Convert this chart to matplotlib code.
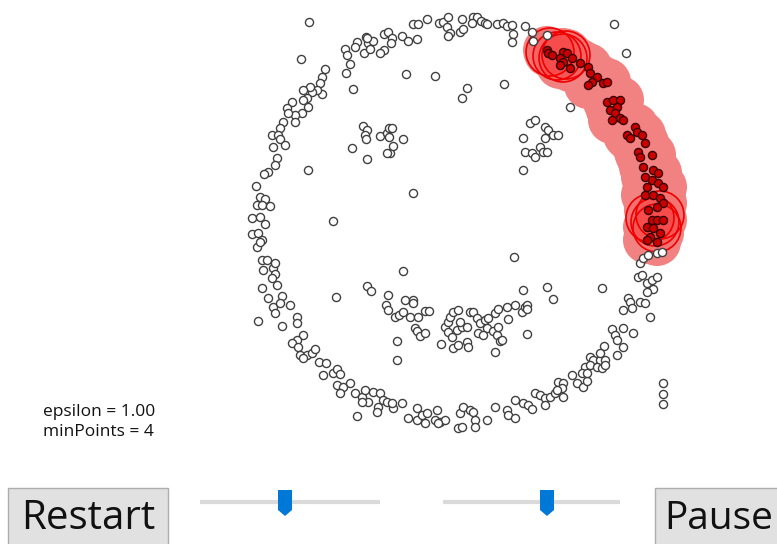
import numpy as np
import matplotlib.pyplot as plt
from matplotlib.patches import Circle, Rectangle, Polygon

# point positions (pixel coords, y down)
ring_pts = [
    (345, 49), (347, 55), (350, 64), (346, 73), (357, 42), (355, 47), (366, 37), (368, 43), (373, 41),
    (364, 53), (370, 49), (367, 38), (384, 34), (388, 32), (392, 38), (391, 43), (384, 50), (380, 53),
    (402, 36), (408, 41), (417, 39), (413, 24), (418, 24), (427, 19), (439, 23), (443, 22), (448, 17),
    (447, 27), (450, 33), (448, 36), (460, 32), (463, 29), (462, 19), (473, 17), (477, 17), (481, 21),
    (472, 23), (485, 23), (487, 24), (497, 24), (503, 23), (507, 26), (512, 25), (513, 34), (512, 42),
    (525, 26), (532, 32), (533, 41), (547, 35),
    (325, 69), (322, 77), (320, 83), (322, 94), (317, 90), (312, 92), (310, 87), (303, 90), (307, 98),
    (303, 100), (308, 107), (302, 113), (295, 115), (292, 102), (287, 108), (288, 113), (283, 122),
    (295, 122), (280, 128), (272, 135), (278, 135), (280, 139), (273, 147), (285, 145), (277, 158),
    (275, 165), (268, 172), (264, 174), (256, 186), (260, 197), (265, 199),
    (257, 205), (262, 205), (270, 206), (252, 218), (260, 217), (265, 224), (252, 234), (258, 233),
    (262, 240), (257, 247), (260, 242), (262, 260), (267, 260), (263, 270), (273, 268), (275, 263),
    (275, 274), (272, 278), (277, 285), (262, 288), (268, 298), (273, 307), (282, 296), (290, 305),
    (280, 303), (275, 313), (297, 317), (297, 323), (282, 326), (303, 335), (297, 340), (292, 343),
    (298, 347), (300, 355), (307, 355), (303, 358), (312, 353), (315, 349), (319, 362), (326, 363),
    (323, 375), (333, 373), (337, 369), (340, 374), (337, 385), (343, 387), (350, 383), (340, 393),
    (355, 393), (362, 397), (365, 390), (373, 392), (368, 402), (362, 402), (380, 393), (383, 400),
    (378, 407), (387, 402), (393, 408), (392, 403), (402, 403), (357, 416), (377, 412),
    (408, 418), (417, 408), (417, 420), (422, 415), (427, 413), (425, 423), (437, 410), (435, 420),
    (440, 422), (445, 420), (438, 423), (458, 428), (462, 427), (460, 413), (463, 407), (470, 410),
    (473, 412), (475, 420), (475, 427), (487, 420), (495, 407), (507, 410), (508, 415), (515, 400),
    (515, 418), (523, 403), (528, 405), (532, 409), (535, 393), (540, 395), (545, 398), (550, 397),
    (555, 393), (545, 405), (558, 382), (563, 383), (562, 388), (557, 390), (563, 397), (572, 375),
    (577, 383), (583, 387), (587, 381), (585, 367), (582, 373), (587, 373), (590, 357), (593, 360),
    (600, 360), (605, 360), (590, 365), (597, 367), (602, 368), (605, 365), (604, 346), (600, 353),
    (612, 329), (615, 335), (617, 340), (623, 328), (633, 333), (623, 347), (617, 355), (628, 298),
    (630, 302), (623, 310), (632, 308), (640, 302), (645, 303), (650, 317), (638, 277), (642, 275),
    (647, 283), (652, 280), (657, 277), (653, 289), (647, 292), (640, 263), (643, 258), (648, 255),
    (657, 253), (662, 252),
]

eye_pts = [
    (363, 126), (367, 130), (365, 135), (366, 139), (380, 136), (387, 133), (389, 128), (392, 128),
    (389, 137), (390, 153), (387, 153), (393, 146), (403, 139), (352, 148), (367, 159),
    (530, 123), (535, 120), (545, 127), (548, 130), (545, 138), (553, 135), (558, 135), (523, 138),
    (525, 152), (532, 153), (535, 157), (540, 147), (543, 152), (547, 152), (523, 170),
]

mouth_pts = [
    (367, 286), (371, 291), (388, 295), (386, 305), (388, 310), (405, 300), (413, 300), (413, 303),
    (395, 317), (399, 315), (403, 312), (410, 317), (418, 317), (415, 328), (417, 331), (420, 336),
    (425, 333), (425, 311), (429, 311), (397, 341), (397, 360), (441, 344), (445, 327), (448, 322),
    (450, 317), (453, 312), (458, 310), (448, 332), (452, 337), (457, 330), (462, 327), (460, 322),
    (453, 348), (458, 345), (467, 342), (468, 347), (467, 327), (470, 312), (473, 312), (477, 318),
    (480, 323), (485, 320), (488, 318), (487, 328), (478, 333), (483, 335), (493, 331), (497, 335),
    (500, 341), (498, 327), (495, 313), (498, 309), (507, 307), (515, 305), (508, 319), (495, 352),
    (522, 312), (525, 307), (527, 305), (527, 309), (527, 334), (502, 340),
]

noise_pts = [
    (309, 22), (301, 59), (308, 170), (353, 89), (406, 74), (435, 76), (467, 88), (462, 98),
    (504, 84), (413, 193), (333, 221), (403, 271), (514, 257), (336, 297), (547, 287), (553, 299),
    (523, 290), (602, 288), (614, 24), (626, 53), (570, 107), (663, 383), (663, 394), (663, 404),
    (258, 321),
]

cluster_pts = [
    (547, 50), (548, 53), (552, 55), (563, 52), (567, 53), (560, 58), (563, 62), (572, 58), (560, 65),
    (570, 68), (580, 63), (588, 67), (590, 73), (597, 77), (592, 82), (588, 85), (603, 83), (607, 82),
    (607, 102), (613, 100), (620, 100), (610, 110), (617, 107), (615, 113), (612, 120), (620, 118),
    (623, 120), (635, 127), (637, 132), (627, 135), (630, 138), (642, 135), (645, 143), (638, 152),
    (640, 157), (652, 155), (643, 167), (653, 170), (658, 173), (645, 177), (652, 180), (658, 183),
    (663, 187), (647, 187), (645, 195), (653, 195), (660, 198), (663, 203), (657, 207), (648, 210),
    (652, 220), (657, 220), (663, 220), (647, 227), (653, 228), (660, 233), (650, 237), (647, 240),
    (657, 242),
]

# points currently being expanded (outlined epsilon circles)
frontier_pts = [(550, 52), (557, 56), (563, 58), (566, 55), (650, 218), (655, 222), (660, 215), (657, 228)]

epsilon = 1.00
min_points = 4
EPS_PX = 24

W, H = 777, 544
fig = plt.figure(figsize=(W / 100, H / 100), dpi=100)
ax = fig.add_axes([0, 0, 1, 1])
ax.set_xlim(0, W)
ax.set_ylim(H, 0)
ax.axis("off")

# neighbourhood band of the growing cluster
for x, y in cluster_pts:
    ax.add_patch(Circle((x, y), EPS_PX, facecolor="#f28282", edgecolor="none", zorder=1))
for x, y in frontier_pts:
    ax.add_patch(Circle((x, y), EPS_PX, facecolor=(1, 0, 0, 0.12), edgecolor="#ee0000",
                        linewidth=1.2, zorder=2))

grey = np.array(ring_pts + eye_pts + mouth_pts + noise_pts)
ax.scatter(grey[:, 0], grey[:, 1], s=34, facecolor="white", edgecolor="#404040",
           linewidth=1.0, zorder=3)
red = np.array(cluster_pts)
ax.scatter(red[:, 0], red[:, 1], s=34, facecolor="#cc0000", edgecolor="#3a0000",
           linewidth=1.0, zorder=4)

font = ["Open Sans", "DejaVu Sans"]
ax.text(43, 412, "epsilon = {:.2f}".format(epsilon), fontsize=12.5, family=font,
        va="center", ha="left", color="#111111")
ax.text(43, 432, "minPoints = {}".format(min_points), fontsize=12.5, family=font,
        va="center", ha="left", color="#111111")

# buttons
ax.add_patch(Rectangle((8, 488), 160, 70, facecolor="#e1e1e1", edgecolor="#adadad", linewidth=1))
ax.text(88, 519, "Restart", fontsize=29, family=font, ha="center", va="center", color="#111111")
ax.add_patch(Rectangle((655, 488), 160, 70, facecolor="#e1e1e1", edgecolor="#adadad", linewidth=1))
ax.text(664, 519, "Pause", fontsize=28, family=font, ha="left", va="center", color="#111111")

# sliders
for x0, x1, xt in [(200, 380, 285), (443, 620, 547)]:
    ax.plot([x0, x1], [502, 502], color="#dadada", linewidth=3, solid_capstyle="butt")
    ax.add_patch(Polygon([(xt - 7, 490), (xt + 7, 490), (xt + 7, 510), (xt, 516), (xt - 7, 510)],
                         closed=True, facecolor="#0078d7", edgecolor="none", zorder=5))

fig.savefig("out.png", dpi=100)
